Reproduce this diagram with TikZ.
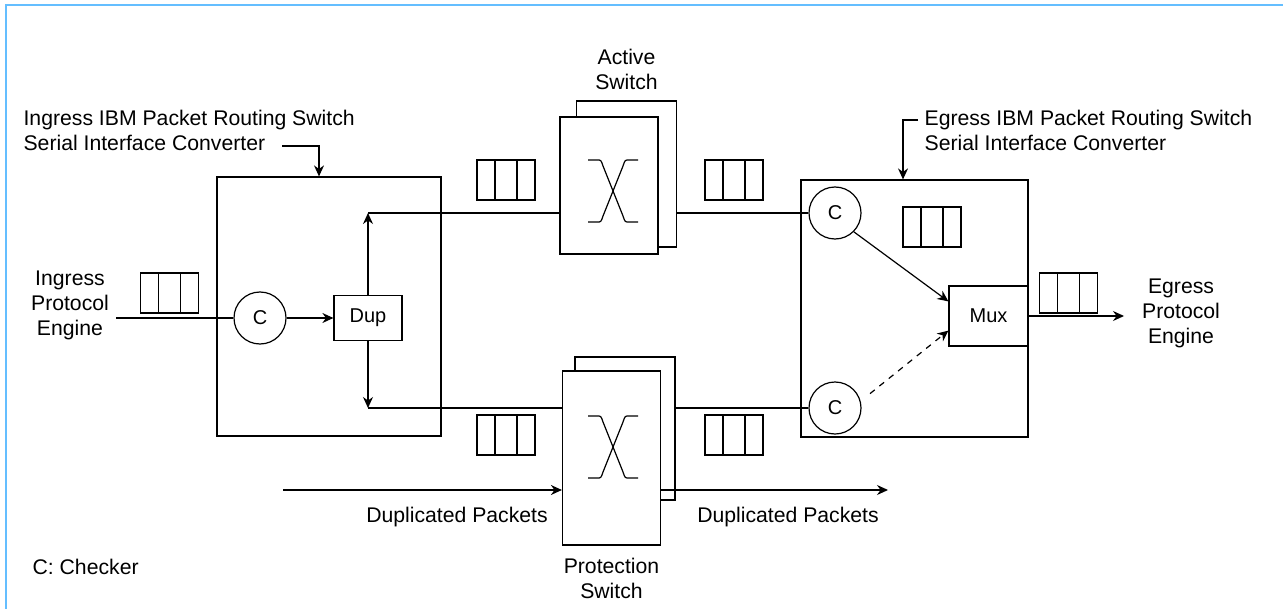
\documentclass[tikz,border=0pt]{standalone}
\usepackage{fontspec}
\setmainfont{Liberation Sans}
\usepackage{xcolor}
\usepackage{tikz}
\usetikzlibrary{positioning, calc, arrows.meta}
\definecolor{FrameBlue}{RGB}{100,190,255}
\tikzset{
    checker/.style={
        circle, draw, minimum size=26pt, inner sep=0pt
    },
    blockbox/.style={
        draw, fill=white, inner sep=0pt
    },
    sicbox/.style={
        draw, inner sep=0pt
    },
    swfront/.style={
        draw, fill=white, minimum width=49pt, inner sep=0pt
    },
    swback/.style={
        draw, minimum width=50pt, inner sep=0pt
    },
    queue/.style={
        draw, minimum width=29pt, minimum height=20pt, inner sep=0pt,
        path picture={
            \draw ($(path picture bounding box.north west)!0.31!(path picture bounding box.north east)$)
                -- ($(path picture bounding box.south west)!0.31!(path picture bounding box.south east)$);
            \draw ($(path picture bounding box.north west)!0.69!(path picture bounding box.north east)$)
                -- ($(path picture bounding box.south west)!0.69!(path picture bounding box.south east)$);
        }
    },
    ptr/.style={
        ->, >={Stealth[length=5.5pt, width=5pt]}
    },
    lbl/.style={
        align=center, inner sep=0pt, font=\fontsize{10.6}{12.5}\selectfont
    },
    swcross/.pic={
        \draw (-25,-31) -- (-16,-31) .. controls (-12,-31) .. (-10,-25) -- (10,25)
              .. controls (12,31) .. (16,31) -- (25,31);
        \draw (-25,31) -- (-16,31) .. controls (-12,31) .. (-10,25) -- (10,-25)
              .. controls (12,-31) .. (16,-31) -- (25,-31);
    }
}

\begin{document}
\begin{tikzpicture}[x=0.5pt, y=-0.5pt, line width=0.6pt]
    \useasboundingbox (0,0) rectangle (1283,609);
    \draw[FrameBlue, line width=1pt] (6,609) -- (6,5) -- (1283,5);

    % 1. Ingress converter
    \node[sicbox, minimum width=112pt, minimum height=129.5pt] (ingsic) at (329,306.5) {};
    \node[lbl, align=left, anchor=west] (inglbl) at (23,130) {Ingress IBM Packet Routing Switch\\Serial Interface Converter};
    \coordinate (ingtip) at (282,146);
    \draw[ptr] (ingtip) -| ([xshift=-5pt]ingsic.north);

    \node[lbl] (ingpe) at (70,305) {Ingress\\Protocol\\Engine};
    \node[queue] (qin) at (169.5,293) {};
    \node[checker] (ingC) at (260,318) {C};
    \node[blockbox, minimum width=34pt, minimum height=22.5pt] (dup) at (368,318) {Dup};
    \coordinate (ingin) at (116,318);
    \draw (ingin) -- (ingC);
    \draw[ptr] (ingC) -- (dup);

    % 2. Active / protection switch
    \node[swback, minimum height=73pt] (actback) at (626.5,174) {};
    \node[swfront, minimum height=68.5pt] (actfront) at (609,185.5) {};
    \pic at (613,191) {swcross};
    \node[lbl, above=5pt of actback] (actlbl) {Active\\Switch};

    \node[swback, minimum height=71.5pt] (protback) at (625,428.5) {};
    \node[swfront, minimum height=87pt] (protfront) at (611.5,458) {};
    \pic at (613,447) {swcross};
    \node[lbl, below=6pt of protfront] (protlbl) {Protection\\Switch};

    \node[queue] (qup1) at (506,180) {};
    \node[queue] (qup2) at (734,180) {};
    \node[queue] (qlow1) at (506,435) {};
    \node[queue] (qlow2) at (734,435) {};

    % 3. Egress converter
    \node[sicbox, minimum width=113.5pt, minimum height=128.5pt] (egsic) at (914.5,308.5) {};
    \node[lbl, align=left, anchor=west] (eglbl) at (924,130) {Egress IBM Packet Routing Switch\\Serial Interface Converter};
    \coordinate (egtip) at (918,120);
    \draw[ptr] (egtip) -| ([xshift=-5.75pt]egsic.north);

    \node[checker] (egCtop) at (835,213) {C};
    \node[checker] (egCbot) at (835,408) {C};
    \node[queue] (qegin) at (932,227) {};
    \node[blockbox, minimum width=39.5pt, minimum height=30pt] (mux) at (988.5,316) {Mux};
    \node[queue] (qout) at (1068.5,293) {};
    \node[lbl] (egpe) at (1181,313) {Egress\\Protocol\\Engine};
    \coordinate (egout) at (1124,316);

    % 4. Connectors
    \draw[ptr] (dup.north) -- (dup.north |- egCtop);
    \draw (dup.north |- egCtop) -- (actfront.west |- egCtop);
    \draw (actback.east |- egCtop) -- (egCtop);
    \draw[ptr] (dup.south) -- (dup.south |- egCbot);
    \draw (dup.south |- egCbot) -- (protfront.west |- egCbot);
    \draw (protback.east |- egCbot) -- (egCbot);

    \draw[ptr] (egCtop.south east) -- (mux.160);
    \draw[ptr, dashed, shorten <=6pt] (egCbot.15) -- (mux.200);
    \draw[ptr] (mux) -- (egout);

    % 5. Duplicated packets
    \coordinate (dupinL) at (283,490);
    \coordinate (dupoutR) at (888,490);
    \draw[ptr] (dupinL) -- (protfront.west |- dupinL);
    \draw[ptr] (protfront.east |- dupoutR) -- (dupoutR);
    \node[lbl] (duplbl1) at (457,517) {Duplicated Packets};
    \node[lbl] (duplbl2) at (788,517) {Duplicated Packets};

    \node[lbl, anchor=west] (ckey) at (32,567) {C: Checker};
\end{tikzpicture}
\end{document}
